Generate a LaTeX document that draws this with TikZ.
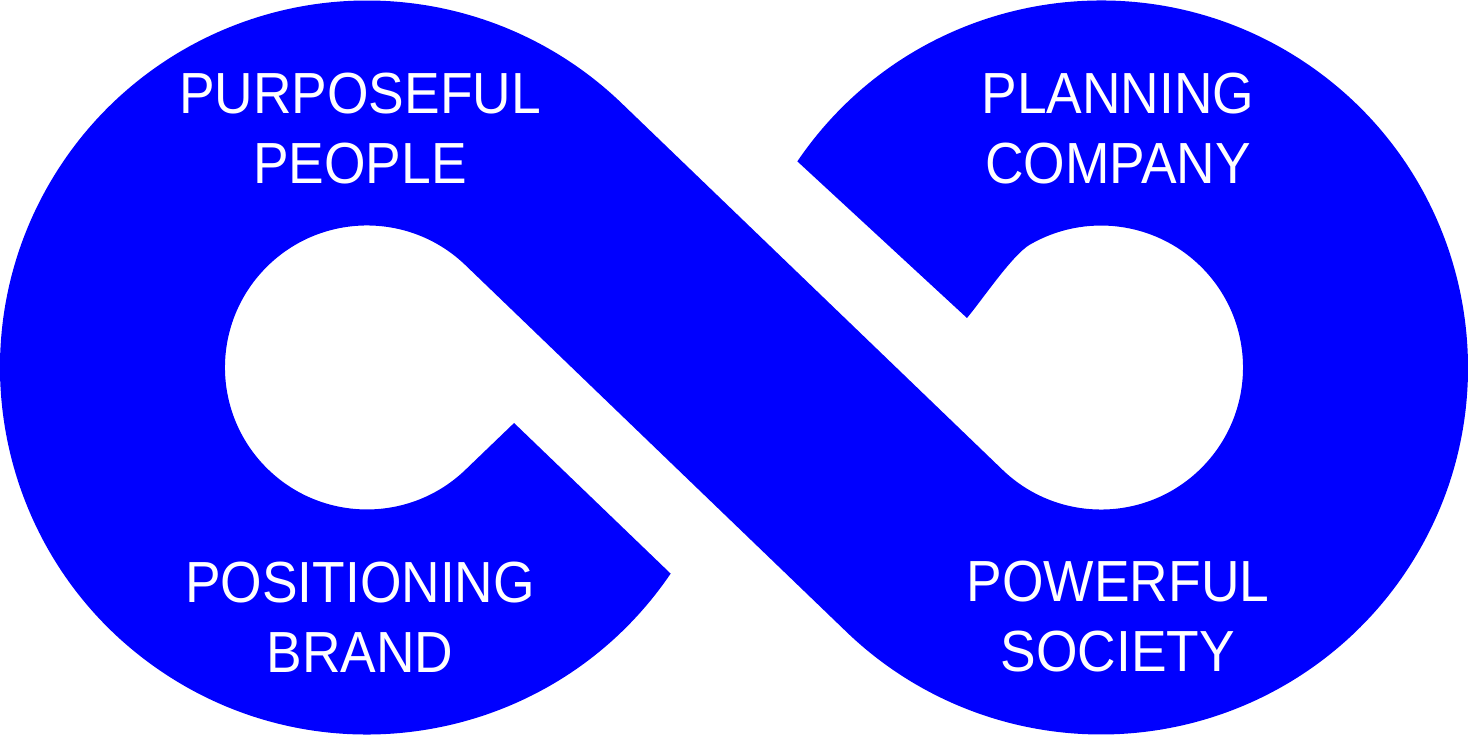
\documentclass[tikz,border=0pt]{standalone}
\usepackage{fontspec}
\setmainfont{Liberation Sans}[FakeStretch=0.92]
\definecolor{infinityblue}{RGB}{0,0,255}

\tikzset{
  looplabel/.style={text=white, align=center, inner sep=0pt,
    font=\fontsize{58}{70}\selectfont}
}

\begin{document}
\begin{tikzpicture}[x=1pt,y=1pt]
  \useasboundingbox (-734,-367.5) rectangle (734,367.5);
  % the ribbon, traced once round (loops centred at x=-367 and x=367)
  \fill[infinityblue] (-63.36,-206.12)
     arc[start angle=-34.17, end angle=-313.905, radius=367]
     -- (268.56,-102.34)
     arc[start angle=226.095, end angle=480, radius=142]
     .. controls (278.7,113) and (249,68.7) .. (233,49.5)
     -- (63.36,206.12)
     arc[start angle=145.83, end angle=-133.905, radius=367]
     -- (-268.56,102.34)
     arc[start angle=46.095, end angle=313.905, radius=142]
     -- (-219.91,-55.51)
     -- cycle;

  \node[looplabel] (people)  at (-374,238.5)  {PURPOSEFUL\\PEOPLE};
  \node[looplabel] (company) at (384,238.5)   {PLANNING\\COMPANY};
  \node[looplabel] (brand)   at (-374,-249.5) {POSITIONING\\BRAND};
  \node[looplabel] (society) at (384,-249.5)  {POWERFUL\\SOCIETY};
\end{tikzpicture}
\end{document}
